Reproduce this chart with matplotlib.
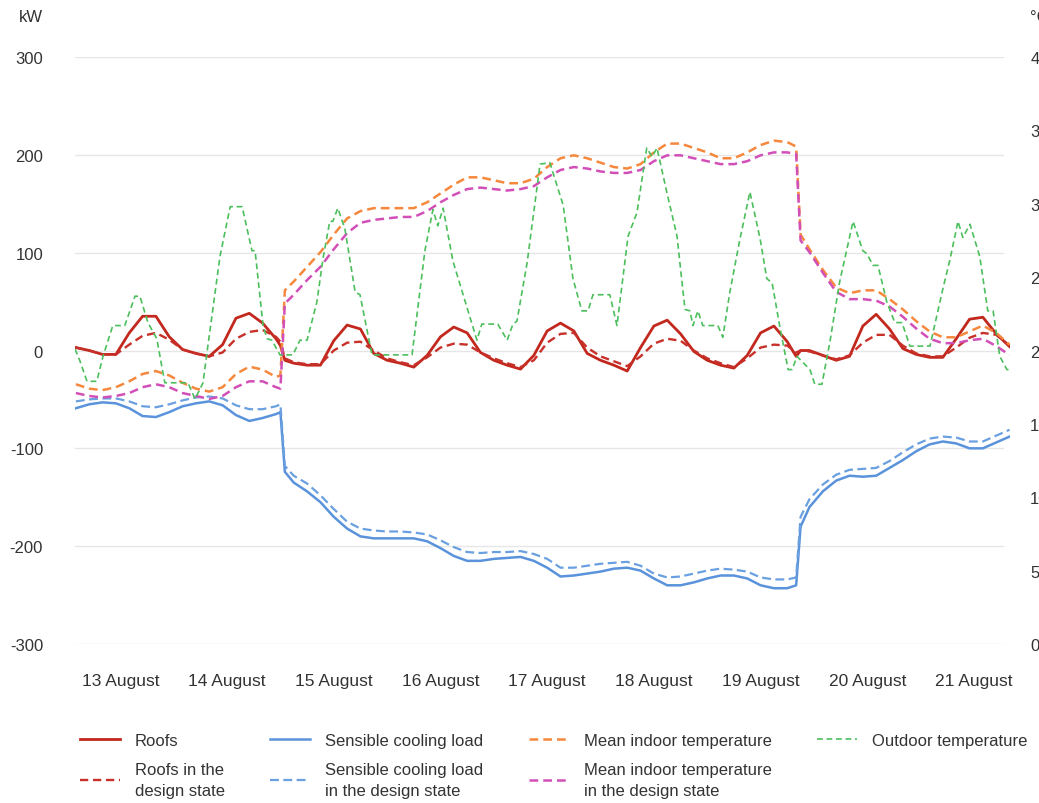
import matplotlib.pyplot as plt

plt.rcParams['font.family'] = ['Liberation Sans', 'DejaVu Sans']

# time axis in hours from 13 August 00:00
hours = [2, 5, 8, 11, 14, 17, 20, 23, 26, 29, 32, 35, 38, 41, 44, 47, 48, 49,
         51, 54, 57, 60, 63, 66, 69, 72, 75, 78, 81, 84, 87, 90, 93, 96, 99,
         102, 105, 108, 111, 114, 117, 120, 123, 126, 129, 132, 135, 138, 141,
         144, 147, 150, 153, 156, 159, 162, 164, 165, 167, 170, 173, 176, 179,
         182, 185, 188, 191, 194, 197, 200, 203, 206, 209, 212]

# kW
roofs = [3, 0, -4, -4, 18, 35, 35, 14, 1, -3,
         -6, 6, 33, 38, 28, 12, 5, -10, -13, -15,
         -15, 10, 26, 22, -3, -10, -13, -17, -5, 14,
         24, 18, -2, -10, -15, -19, -5, 20, 28, 20,
         -3, -10, -15, -21, 3, 25, 31, 17, -1, -10,
         -15, -18, -5, 18, 25, 9, -6, 0, 0, -5,
         -10, -6, 25, 37, 22, 2, -4, -7, -7, 12,
         32, 34, 17, 4]
roofs_design = [3, 0, -4, -4, 6, 15, 18, 11, 1, -3,
                -6, -2, 12, 19, 21, 14, 9, -8, -12, -14,
                -14, 0, 8, 9, 0, -8, -12, -15, -7, 3,
                7, 6, -2, -8, -13, -17, -10, 8, 17, 18,
                3, -6, -11, -16, -6, 7, 12, 10, 0, -8,
                -13, -17, -8, 3, 6, 5, -2, 0, -1, -5,
                -9, -5, 8, 16, 16, 5, -3, -6, -6, 3,
                13, 18, 16, 5]
cooling = [-59, -55, -53, -54, -59, -67, -68, -63, -57, -54,
           -52, -56, -66, -72, -69, -65, -63, -124, -135, -144,
           -155, -170, -182, -190, -192, -192, -192, -192, -195, -202,
           -210, -215, -215, -213, -212, -211, -215, -222, -231, -230,
           -228, -226, -223, -222, -225, -233, -240, -240, -237, -233,
           -230, -230, -233, -240, -243, -243, -240, -180, -160, -144,
           -133, -128, -129, -128, -120, -112, -103, -96, -93, -95,
           -100, -100, -94, -88]
cooling_design = [-52, -50, -49, -49, -52, -57, -58, -55, -51, -48,
                  -47, -49, -56, -60, -60, -57, -55, -118, -128, -136,
                  -148, -162, -175, -182, -184, -185, -185, -186, -188, -194,
                  -201, -206, -207, -206, -206, -205, -208, -213, -222, -222,
                  -220, -218, -217, -216, -220, -228, -232, -231, -228, -225,
                  -223, -224, -226, -232, -234, -234, -232, -170, -152, -137,
                  -127, -122, -121, -120, -113, -104, -96, -90, -88, -89,
                  -93, -93, -87, -81]

# degC
indoor = [17.7, 17.4, 17.3, 17.5, 17.9, 18.4, 18.6, 18.3, 17.8, 17.4,
          17.2, 17.5, 18.4, 18.9, 18.7, 18.2, 18.3, 24.1, 24.7, 25.7,
          26.7, 27.9, 29.0, 29.5, 29.7, 29.7, 29.7, 29.7, 30.1, 30.7,
          31.3, 31.8, 31.8, 31.6, 31.4, 31.4, 31.7, 32.5, 33.1, 33.3,
          33.1, 32.8, 32.5, 32.4, 32.7, 33.5, 34.1, 34.1, 33.8, 33.5,
          33.1, 33.1, 33.5, 34.0, 34.3, 34.2, 33.9, 27.9, 26.9, 25.5,
          24.3, 23.9, 24.1, 24.1, 23.5, 22.8, 22.0, 21.3, 20.9, 20.9,
          21.3, 21.7, 21.2, 20.4]
indoor_design = [17.1, 16.9, 16.8, 16.9, 17.1, 17.5, 17.7, 17.5, 17.1, 16.9,
                 16.7, 16.9, 17.5, 17.9, 17.9, 17.5, 17.4, 23.2, 23.8, 24.8,
                 25.7, 26.9, 28.0, 28.7, 28.9, 29.0, 29.1, 29.1, 29.5, 30.1,
                 30.6, 31.0, 31.1, 31.0, 30.9, 31.0, 31.2, 31.8, 32.3, 32.5,
                 32.4, 32.2, 32.1, 32.1, 32.3, 32.9, 33.3, 33.3, 33.1, 32.9,
                 32.7, 32.7, 32.9, 33.3, 33.5, 33.5, 33.4, 27.5, 26.7, 25.3,
                 24.0, 23.5, 23.5, 23.4, 23.0, 22.3, 21.5, 20.8, 20.5, 20.5,
                 20.7, 20.8, 20.3, 19.7]

outdoor_hours = [1.8, 2.9, 4.5, 6.7, 8.1, 10.3, 13.0, 15.3, 16.4, 18.2,
                 20.2, 22.0, 27.2, 28.8, 30.6, 31.5, 32.8, 34.4, 36.7, 39.4,
                 41.6, 42.3, 44.1, 45.0, 46.1, 47.9, 50.8, 52.4, 54.0, 56.2,
                 57.6, 59.1, 59.8, 60.9, 62.5, 64.8, 65.9, 68.6, 77.6, 80.5,
                 82.3, 83.4, 84.6, 86.8, 92.2, 93.3, 96.9, 99.0, 100.3, 101.2,
                 103.5, 106.4, 108.6, 111.6, 113.8, 115.8, 117.2, 118.3, 122.1, 123.7,
                 126.2, 128.2, 130.4, 131.6, 132.7, 134.9, 137.2, 139.0, 140.1, 140.8,
                 141.9, 143.0, 146.4, 147.5, 149.1, 151.3, 153.6, 155.9, 157.4, 158.6,
                 160.4, 162.2, 163.1, 164.2, 167.1, 168.2, 169.8, 171.6, 173.8, 176.8,
                 179.0, 179.9, 181.3, 182.4, 184.4, 186.2, 187.8, 189.6, 194.1, 197.0,
                 198.6, 200.4, 201.5, 203.1, 205.3, 207.1, 208.3, 209.8, 211.4, 212.1]
outdoor = [20.1, 19.3, 17.9, 17.9, 19.6, 21.7, 21.7, 23.7, 23.7, 21.9,
           20.8, 17.8, 17.8, 16.7, 17.8, 19.9, 22.8, 26.4, 29.8, 29.8,
           26.8, 26.8, 21.7, 20.8, 20.7, 19.7, 19.7, 20.7, 20.7, 23.3,
           26.3, 28.8, 28.8, 29.7, 28.3, 24.0, 23.8, 19.7, 19.7, 26.8,
           29.6, 28.5, 29.7, 26.1, 20.7, 21.8, 21.8, 20.7, 21.8, 22.0,
           26.0, 32.7, 32.8, 29.9, 24.9, 22.7, 22.7, 23.8, 23.8, 21.7,
           27.8, 29.4, 33.8, 33.2, 33.8, 30.8, 27.8, 22.8, 22.7, 21.7,
           22.7, 21.7, 21.7, 20.9, 24.0, 27.5, 30.8, 27.6, 24.9, 24.6,
           21.5, 18.7, 18.7, 19.6, 18.7, 17.7, 17.7, 20.6, 24.7, 28.8,
           26.8, 26.6, 25.8, 25.8, 23.3, 21.9, 21.9, 20.3, 20.3, 24.2,
           26.2, 28.8, 27.7, 28.6, 26.4, 22.7, 22.7, 19.6, 18.7, 18.7]

day_ticks = [12, 36, 60, 84, 108, 132, 156, 180, 204]
day_labels = ['13 August', '14 August', '15 August', '16 August', '17 August',
              '18 August', '19 August', '20 August', '21 August']
kw_ticks = [-300, -200, -100, 0, 100, 200, 300]
degc_ticks = [0, 5, 10, 15, 20, 25, 30, 35, 40]

txt = '#333333'
fig = plt.figure(figsize=(10.39, 8.04), dpi=100)
ax = fig.add_axes([75 / 1039, 159 / 804, 935 / 1039, 587 / 804])
ax2 = ax.twinx()

for y in kw_ticks:
    ax.axhline(y, color='#e6e6e6', lw=1, xmax=0.992, zorder=0)

h1, = ax.plot(hours, roofs, color='#c2281d', lw=2.0, solid_joinstyle='round')
h2, = ax.plot(hours, roofs_design, color='#c8302a', lw=1.7, dashes=(3.5, 2))
h3, = ax.plot(hours, cooling, color='#5a93db', lw=1.8, solid_joinstyle='round')
h4, = ax.plot(hours, cooling_design, color='#6aa0e0', lw=1.6, dashes=(4, 2))
h5, = ax2.plot(hours, indoor, color='#f5883d', lw=1.8, dashes=(3.5, 2))
h6, = ax2.plot(hours, indoor_design, color='#d24fb8', lw=1.8, dashes=(3.5, 2))
h7, = ax2.plot(outdoor_hours, outdoor, color='#4cbf5c', lw=1.2, dashes=(3.5, 2.2))

ax.set_xlim(1.8, 212.1)
ax.set_ylim(-300, 300)
ax2.set_ylim(0, 40)
ax.set_yticks(kw_ticks)
ax.set_yticklabels([str(v) for v in kw_ticks])
ax2.set_yticks(degc_ticks)
ax2.set_yticklabels([str(v) for v in degc_ticks])
ax.set_xticks(day_ticks)
ax.set_xticklabels(day_labels)

ax.tick_params(axis='y', length=0, pad=23, labelsize=12, labelcolor=txt)
ax.tick_params(axis='x', length=0, pad=21, labelsize=12.5, labelcolor=txt)
ax2.tick_params(axis='y', length=0, pad=14.5, labelsize=12, labelcolor=txt)
for a in (ax, ax2):
    for s in a.spines.values():
        s.set_visible(False)

fig.text(43 / 1039, 1 - 18 / 804, 'kW', ha='right', va='center', fontsize=12, color=txt)
fig.text(1030 / 1039, 1 - 18 / 804, '°C', ha='left', va='center', fontsize=12, color=txt)

handles = [h1, h2, h3, h4, h5, h6, h7]
labels = ['Roofs', 'Roofs in the\ndesign state',
          'Sensible cooling load', 'Sensible cooling load\nin the design state',
          'Mean indoor temperature', 'Mean indoor temperature\nin the design state',
          'Outdoor temperature']
leg = fig.legend(handles, labels, loc='upper left', bbox_to_anchor=(80 / 1039, 1 - 734 / 804),
                 ncol=4, frameon=False, fontsize=12, handlelength=2.4, handletextpad=0.9,
                 columnspacing=2.72, labelspacing=0.85, borderpad=0, borderaxespad=0)
for t in leg.get_texts():
    t.set_color(txt)
    t.set_linespacing(1.5)

fig.savefig('out.png', dpi=100)
